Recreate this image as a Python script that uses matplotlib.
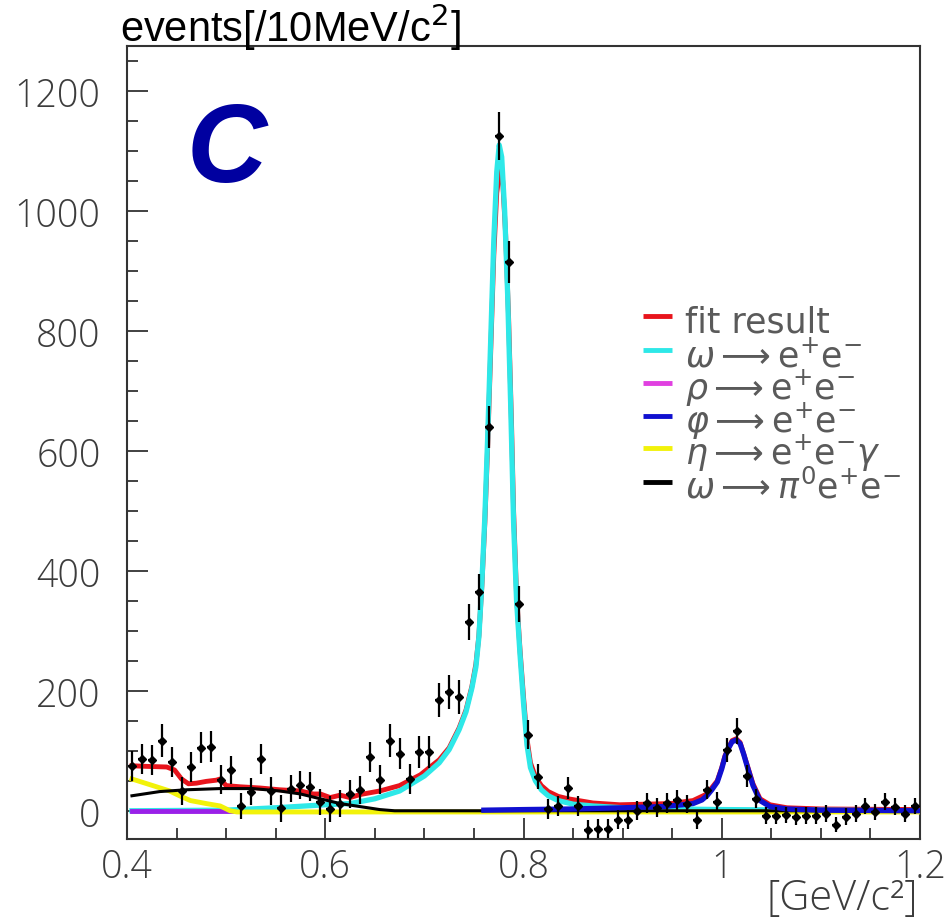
import numpy as np
import matplotlib
matplotlib.use("Agg")
import matplotlib.pyplot as plt
from matplotlib.ticker import MultipleLocator

# histogram: 10 MeV bins between 0.4 and 1.2 GeV/c^2
bin_edges = np.linspace(0.4, 1.2, 81)
bin_centers = 0.5 * (bin_edges[:-1] + bin_edges[1:])

counts = [75, 87, 84, 117, 82, 33, 73, 105, 107, 52,
          68, 8, 32, 87, 33, 4, 37, 43, 40, 15,
          3, 12, 28, 35, 90, 52, 117, 95, 53, 98,
          98, 185, 198, 190, 315, 365, 640, 1125, 915, 345,
          127, 57, 3, 8, 38, 8, -32, -30, -30, -15,
          -15, 0, 13, 5, 13, 18, 12, -15, 35, 15,
          102, 133, 58, 20, -8, -8, -7, -10, -8, -8,
          -5, -23, -10, -5, 8, -2, 15, 7, -5, 8]

errors = [25, 25, 25, 27, 25, 23, 25, 26, 26, 24,
          24, 22, 23, 25, 23, 22, 23, 24, 24, 22,
          22, 22, 23, 23, 25, 24, 27, 26, 25, 26,
          26, 28, 28, 28, 30, 30, 35, 40, 35, 30,
          24, 21, 17, 17, 18, 17, 16, 16, 16, 16,
          16, 16, 16, 16, 16, 16, 15, 15, 16, 16,
          20, 22, 18, 16, 14, 14, 14, 14, 14, 14,
          14, 13, 14, 14, 14, 14, 14, 14, 14, 14]

# fit components, tabulated
fit_x = [0.405, 0.420, 0.440, 0.448, 0.455, 0.462, 0.470, 0.480, 0.490, 0.494,
         0.500, 0.514, 0.534, 0.554, 0.575, 0.588, 0.595, 0.605, 0.615, 0.625,
         0.635, 0.655, 0.675, 0.696, 0.715, 0.725, 0.735, 0.742, 0.748, 0.752,
         0.755, 0.758, 0.761, 0.764, 0.767, 0.770, 0.773, 0.7765, 0.779, 0.782,
         0.785, 0.788, 0.790, 0.793, 0.7965, 0.800, 0.8035, 0.807, 0.812, 0.818,
         0.825, 0.835, 0.845, 0.870, 0.897, 0.948, 0.971, 0.985, 0.9955, 1.000,
         1.0033, 1.0104, 1.0145, 1.0185, 1.0255, 1.0315, 1.0386, 1.0487, 1.0658, 1.100,
         1.200]
fit_y = [75, 74, 73, 68, 53, 45, 46, 49, 51, 53,
         42, 40, 38, 35, 33, 28, 28, 22, 26, 22,
         27, 33, 42, 60, 85, 105, 138, 168, 208, 245,
         292, 375, 480, 615, 770, 925, 1030, 1072, 1050, 960,
         820, 640, 500, 360, 268, 190, 120, 80, 57, 42,
         32, 24, 20, 13, 10, 12, 17, 28, 50, 72,
         92, 117, 120, 114, 77, 45, 20, 10, 5, 3,
         2]

omega_x = [0.405, 0.500, 0.550, 0.600, 0.625, 0.650, 0.675, 0.700, 0.715, 0.725,
           0.735, 0.742, 0.748, 0.752, 0.755, 0.758, 0.761, 0.764, 0.767, 0.770,
           0.773, 0.7755, 0.778, 0.781, 0.784, 0.787, 0.790, 0.793, 0.7965, 0.800,
           0.8035, 0.807, 0.812, 0.818, 0.825, 0.835, 0.850, 0.870, 0.900, 0.950,
           1.000, 1.100, 1.200]
omega_y = [0, 1, 5, 10, 12, 20, 33, 58, 80, 102,
           135, 165, 205, 240, 290, 380, 490, 630, 790, 950,
           1065, 1110, 1090, 1000, 860, 680, 480, 350, 260, 180,
           110, 72, 50, 35, 25, 17, 11, 8, 5, 3,
           2, 1, 0]

rho_x = [0.405, 0.505]
rho_y = [0, 0]

phi_x = [0.760, 0.800, 0.850, 0.900, 0.940, 0.960, 0.971, 0.980, 0.985,
         0.990, 0.9955, 1.000, 1.0033, 1.007, 1.0104, 1.0145, 1.0185, 1.022, 1.0255,
         1.0315, 1.0386, 1.0487, 1.0658, 1.100, 1.200]
phi_y = [1, 2, 3, 5, 7, 10, 12, 18, 25,
         35, 48, 70, 90, 105, 115, 118, 112, 95, 75,
         42, 17, 7, 3, 1, 0]

eta_x = [0.405, 0.426, 0.443, 0.453, 0.464, 0.480, 0.494, 0.504, 0.511, 1.200]
eta_y = [53, 42, 33, 25, 17, 12, 8, 0, -2, -2]

dalitz_x = [0.405, 0.433, 0.460, 0.494, 0.527, 0.554, 0.575, 0.595, 0.615, 0.635,
            0.655, 0.670, 1.200]
dalitz_y = [25, 32, 35, 37, 37, 33, 28, 20, 12, 7,
            2, 0, 0]

legend_labels = ["fit result",
                 r"$\omega \longrightarrow \mathrm{e}^{+}\mathrm{e}^{-}$",
                 r"$\rho \longrightarrow \mathrm{e}^{+}\mathrm{e}^{-}$",
                 r"$\varphi \longrightarrow \mathrm{e}^{+}\mathrm{e}^{-}$",
                 r"$\eta \longrightarrow \mathrm{e}^{+}\mathrm{e}^{-}\gamma$",
                 r"$\omega \longrightarrow \pi^{0}\mathrm{e}^{+}\mathrm{e}^{-}$"]
legend_colors = ["#e8141c", "#2ee8e8", "#e040e0", "#1010d0", "#f2f20a", "#000000"]

label_grey = "#3c3c3c"
plt.rcParams["font.family"] = ["Open Sans", "DejaVu Sans"]
plt.rcParams["mathtext.fontset"] = "dejavusans"

fig = plt.figure(figsize=(9.47, 9.20), dpi=100)
ax = fig.add_axes([0.1341, 0.0870, 0.8374, 0.8619])

ax.plot(fit_x, fit_y, color=legend_colors[0], lw=3.5, zorder=4)
ax.plot(omega_x, omega_y, color=legend_colors[1], lw=3.8, zorder=5)
ax.plot(rho_x, rho_y, color="#9a20e8", lw=3.5, zorder=5.2)
ax.plot(eta_x, eta_y, color=legend_colors[4], lw=3.5, zorder=5.5)
ax.plot(dalitz_x, dalitz_y, color=legend_colors[5], lw=2.2, zorder=5.6)
ax.plot(phi_x, phi_y, color=legend_colors[3], lw=3.8, zorder=6)

ax.errorbar(bin_centers, counts, yerr=errors, xerr=0.004, fmt="D", ms=3.8,
            color="black", ecolor="black", elinewidth=1.6, capsize=0, zorder=7)

ax.set_xlim(0.4, 1.2)
ax.set_ylim(-47, 1275)
ax.xaxis.set_minor_locator(MultipleLocator(0.05))
ax.yaxis.set_major_locator(MultipleLocator(200))
ax.yaxis.set_minor_locator(MultipleLocator(50))
ax.set_xticks([0.4, 0.6, 0.8, 1.0, 1.2], ["0.4", "0.6", "0.8", "1", "1.2"])
ax.tick_params(which="both", direction="in", color="#333333", width=1.3)
ax.tick_params(which="major", length=15, labelsize=27, labelcolor=label_grey)
ax.tick_params(which="minor", length=8)
ax.tick_params(axis="y", pad=19)
ax.tick_params(axis="x", pad=6)
for lab in ax.get_xticklabels() + ax.get_yticklabels():
    lab.set_fontweight("light")
for spine in ax.spines.values():
    spine.set_color("#333333")
    spine.set_linewidth(1.5)

# legend drawn by hand, ROOT style
legend_mid = [0.6595, 0.6166, 0.5750, 0.5334, 0.4931, 0.4502]
for label, color, ym in zip(legend_labels, legend_colors, legend_mid):
    ax.plot([0.651, 0.687], [ym, ym], transform=ax.transAxes, color=color,
            lw=3.5, solid_capstyle="butt", zorder=8, clip_on=False)
    ax.text(0.704, ym - 0.02, label, transform=ax.transAxes, fontsize=25,
            color="#5a5a5a", va="baseline", ha="left",
            family=["DejaVu Sans"])

fig.text(120 / 947, 1 - 42 / 920, "events[/10MeV/c$^2$]", fontsize=30,
         family=["Liberation Sans", "DejaVu Sans"], color="black",
         ha="left", va="baseline")
fig.text(918 / 947, 1 - 910 / 920, "[GeV/c²]", fontsize=30, color=label_grey,
         ha="right", va="baseline", fontweight="light")
fig.text(187 / 947, 1 - 182 / 920, "C", fontsize=80, color="#0000a0",
         family=["Liberation Sans", "DejaVu Sans"], fontweight="bold",
         fontstyle="italic", ha="left", va="baseline")

fig.savefig("out.png", dpi=100)
